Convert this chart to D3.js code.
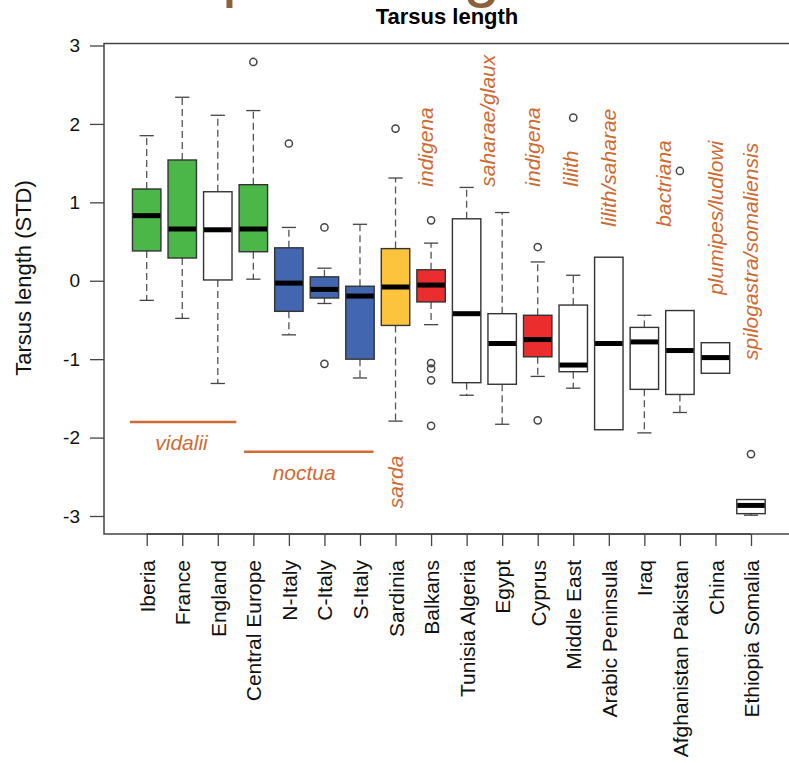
<!DOCTYPE html>
<html>
<head>
<meta charset="utf-8">
<script src="https://cdn.jsdelivr.net/npm/d3@7"></script>
<style>
  body { margin: 0; background: #fff; }
  svg { display: block; }
</style>
</head>
<body>
<div id="chart"></div>
<script>
// tarsus length (STD) per population
const categories = ['Iberia', 'France', 'England', 'Central Europe', 'N-Italy', 'C-Italy', 'S-Italy',
    'Sardinia', 'Balkans', 'Tunisia Algeria', 'Egypt', 'Cyprus', 'Middle East', 'Arabic Peninsula',
    'Iraq', 'Afghanistan Pakistan', 'China', 'Ethiopia Somalia'];
const lineage = ['west', 'west', 'none', 'west', 'italy', 'italy', 'italy', 'sardinia', 'east',
    'none', 'none', 'east', 'none', 'none', 'none', 'none', 'none', 'none'];
const upperWhisker = [1.85, 2.34, 2.11, 2.17, 0.68, 0.16, 0.72, 1.31, 0.48, 1.19, 0.87, 0.24, 0.07, 0.30, -0.44, -0.38, -0.79, -2.79];
const q3 = [1.17, 1.54, 1.135, 1.225, 0.42, 0.05, -0.07, 0.41, 0.14, 0.79, -0.42, -0.44, -0.31, 0.30, -0.595, -0.38, -0.79, -2.79];
const medians = [0.83, 0.66, 0.65, 0.66, -0.03, -0.11, -0.195, -0.08, -0.055, -0.42, -0.80, -0.75, -1.075, -0.80, -0.78, -0.89, -0.98, -2.865];
const q1 = [0.38, 0.29, 0.01, 0.37, -0.39, -0.22, -1.0, -0.57, -0.27, -1.30, -1.32, -0.97, -1.16, -1.90, -1.385, -1.45, -1.18, -2.97];
const lowerWhisker = [-0.25, -0.48, -1.31, 0.02, -0.69, -0.29, -1.24, -1.79, -0.56, -1.46, -1.83, -1.22, -1.37, -1.90, -1.94, -1.68, -1.18, -2.99];
const outliers = [[], [], [], [2.79], [1.75], [0.68, -1.06], [], [1.94], [0.77, -1.05, -1.12, -1.27, -1.85],
    [], [], [0.43, -1.78], [2.08], [], [], [1.40], [], [-2.21]];
const yTicks = [-3, -2, -1, 0, 1, 2, 3];

// subspecies names
const groupNames = ['vidalii', 'noctua'];
const groupSpans = [['Iberia', 'England'], ['Central Europe', 'S-Italy']];
const verticalNames = ['sarda', 'indigena', 'saharae/glaux', 'indigena', 'lilith', 'lilith/saharae',
    'bactriana', 'plumipes/ludlowi', 'spilogastra/somaliensis'];

const width = 789;
const height = 763;
const plot = { left: 104, top: 43.5, bottom: 534 };
const orange = '#cf6a33';
const font = "'Liberation Sans', Arial, Helvetica, sans-serif";

const svg = d3.select('#chart')
    .append('svg')
    .attr('width', width)
    .attr('height', height)
    .style('font-family', font);

// scales
const x = d3.scalePoint()
    .domain(categories)
    .range([146.7, 751]);
const step = x.step();
const boxW = step * 0.8;
const xi = d3.scaleLinear().domain([0, categories.length - 1]).range(x.range());

const y = d3.scaleLinear()
    .domain([-3, 3])
    .range([516, 45.5]);

const fill = d3.scaleOrdinal()
    .domain(['west', 'italy', 'sardinia', 'east', 'none'])
    .range(['#4cb749', '#4366b0', '#fcc43c', '#ec2d2d', '#ffffff']);

// cut-off heading letters at the very top (the slide title above is clipped)
svg.append('g')
    .attr('fill', '#8c6239')
    .attr('font-size', 67)
    .selectAll('text')
    .data([['p', 222], ['g', 463]])
    .join('text')
    .attr('x', d => d[1])
    .attr('y', -6)
    .text(d => d[0]);

// title
svg.append('text')
    .attr('x', 447)
    .attr('y', 24)
    .attr('text-anchor', 'middle')
    .attr('font-weight', 'bold')
    .attr('font-size', 22)
    .text('Tarsus length');

// plot frame
svg.append('rect')
    .attr('x', plot.left)
    .attr('y', plot.top)
    .attr('width', width - plot.left + 10)
    .attr('height', plot.bottom - plot.top)
    .attr('fill', 'none')
    .attr('stroke', '#444')
    .attr('stroke-width', 1.5);

const rows = categories.map((c, i) => ({
    cat: c, i, hi: upperWhisker[i], q3: q3[i], med: medians[i], q1: q1[i], lo: lowerWhisker[i], out: outliers[i]
}));

const boxes = svg.append('g');

// whiskers (dashed) and staples
rows.forEach(d => {
    const cx = x(d.cat);
    const g = boxes.append('g');
    [[d.q3, d.hi], [d.q1, d.lo]].forEach(([a, b]) => {
        if (a === b) return;
        g.append('line')
            .attr('x1', cx).attr('x2', cx)
            .attr('y1', y(a)).attr('y2', y(b))
            .attr('stroke', '#555')
            .attr('stroke-width', 1.3)
            .attr('stroke-dasharray', '7,4');
        g.append('line')
            .attr('x1', cx - boxW / 4).attr('x2', cx + boxW / 4)
            .attr('y1', y(b)).attr('y2', y(b))
            .attr('stroke', '#444')
            .attr('stroke-width', 1.3);
    });
});

// boxes
boxes.selectAll('rect.box')
    .data(rows)
    .join('rect')
    .attr('class', 'box')
    .attr('x', d => x(d.cat) - boxW / 2)
    .attr('y', d => y(d.q3))
    .attr('width', boxW)
    .attr('height', d => y(d.q1) - y(d.q3))
    .attr('fill', d => fill(lineage[d.i]))
    .attr('stroke', '#333')
    .attr('stroke-width', 1.4);

// medians
boxes.selectAll('line.med')
    .data(rows)
    .join('line')
    .attr('class', 'med')
    .attr('x1', d => x(d.cat) - boxW / 2 + 0.5)
    .attr('x2', d => x(d.cat) + boxW / 2 - 0.5)
    .attr('y1', d => y(d.med))
    .attr('y2', d => y(d.med))
    .attr('stroke', '#000')
    .attr('stroke-width', 5);

// outliers
boxes.selectAll('circle')
    .data(rows.flatMap(d => d.out.map(v => ({ cat: d.cat, v }))))
    .join('circle')
    .attr('cx', d => x(d.cat))
    .attr('cy', d => y(d.v))
    .attr('r', 3.6)
    .attr('fill', 'none')
    .attr('stroke', '#444')
    .attr('stroke-width', 1.5);

// y axis
const yAxis = svg.append('g')
    .attr('transform', `translate(${plot.left},0)`)
    .call(d3.axisLeft(y).tickValues(yTicks).tickFormat(d => String(d)).tickSize(14).tickPadding(10));
yAxis.select('.domain').remove();
yAxis.selectAll('line').attr('stroke', '#444').attr('stroke-width', 1.3);
yAxis.selectAll('text').attr('font-size', 19).attr('font-family', font).attr('fill', '#111');

svg.append('text')
    .attr('transform', 'translate(31,278) rotate(-90)')
    .attr('text-anchor', 'middle')
    .attr('font-size', 22)
    .attr('fill', '#111')
    .text('Tarsus length (STD)');

// x axis
const xAxis = svg.append('g')
    .attr('transform', `translate(0,${plot.bottom})`)
    .call(d3.axisBottom(x).tickSize(12).tickSizeOuter(0));
xAxis.select('.domain')
    .attr('d', `M${x.range()[0]},0H${x.range()[1]}`)
    .attr('stroke', '#444').attr('stroke-width', 1.5);
xAxis.selectAll('line').attr('stroke', '#444').attr('stroke-width', 1.3);
xAxis.selectAll('text')
    .attr('font-size', 21)
    .attr('font-family', font)
    .attr('fill', '#111')
    .attr('text-anchor', 'end')
    .attr('transform', 'rotate(-90)')
    .attr('x', -26)
    .attr('y', 0)
    .attr('dy', '0.36em');

// subspecies: horizontal bars with names
const spanLayout = [
    { from: -0.47, to: 0.52, lineV: -1.8, textIdx: 0.98, textV: -2.16 },
    { from: -0.26, to: 0.38, lineV: -2.18, textIdx: 4.43, textV: -2.54 }
];
groupNames.forEach((name, k) => {
    const [a, b] = groupSpans[k];
    const L = spanLayout[k];
    svg.append('line')
        .attr('x1', x(a) + L.from * step)
        .attr('x2', x(b) + L.to * step)
        .attr('y1', y(L.lineV))
        .attr('y2', y(L.lineV))
        .attr('stroke', orange)
        .attr('stroke-width', 2.5);
    svg.append('text')
        .attr('x', xi(L.textIdx))
        .attr('y', y(L.textV))
        .attr('text-anchor', 'middle')
        .attr('font-style', 'italic')
        .attr('font-size', 21)
        .attr('fill', orange)
        .text(name);
});

// subspecies: vertical names (index position, value where the text starts)
const verticalLayout = [[7, -2.9], [7.86, 1.2], [9.59, 1.2], [10.87, 1.2], [11.94, 1.2],
    [13, 0.69], [14.55, 0.69], [16, -0.18], [17, -1.01]];
svg.append('g')
    .selectAll('text')
    .data(verticalNames)
    .join('text')
    .attr('transform', (d, i) => `translate(${xi(verticalLayout[i][0])},${y(verticalLayout[i][1])}) rotate(-90)`)
    .attr('dy', '0.35em')
    .attr('font-style', 'italic')
    .attr('font-size', 21)
    .attr('fill', orange)
    .text(d => d);
</script>
</body>
</html>
